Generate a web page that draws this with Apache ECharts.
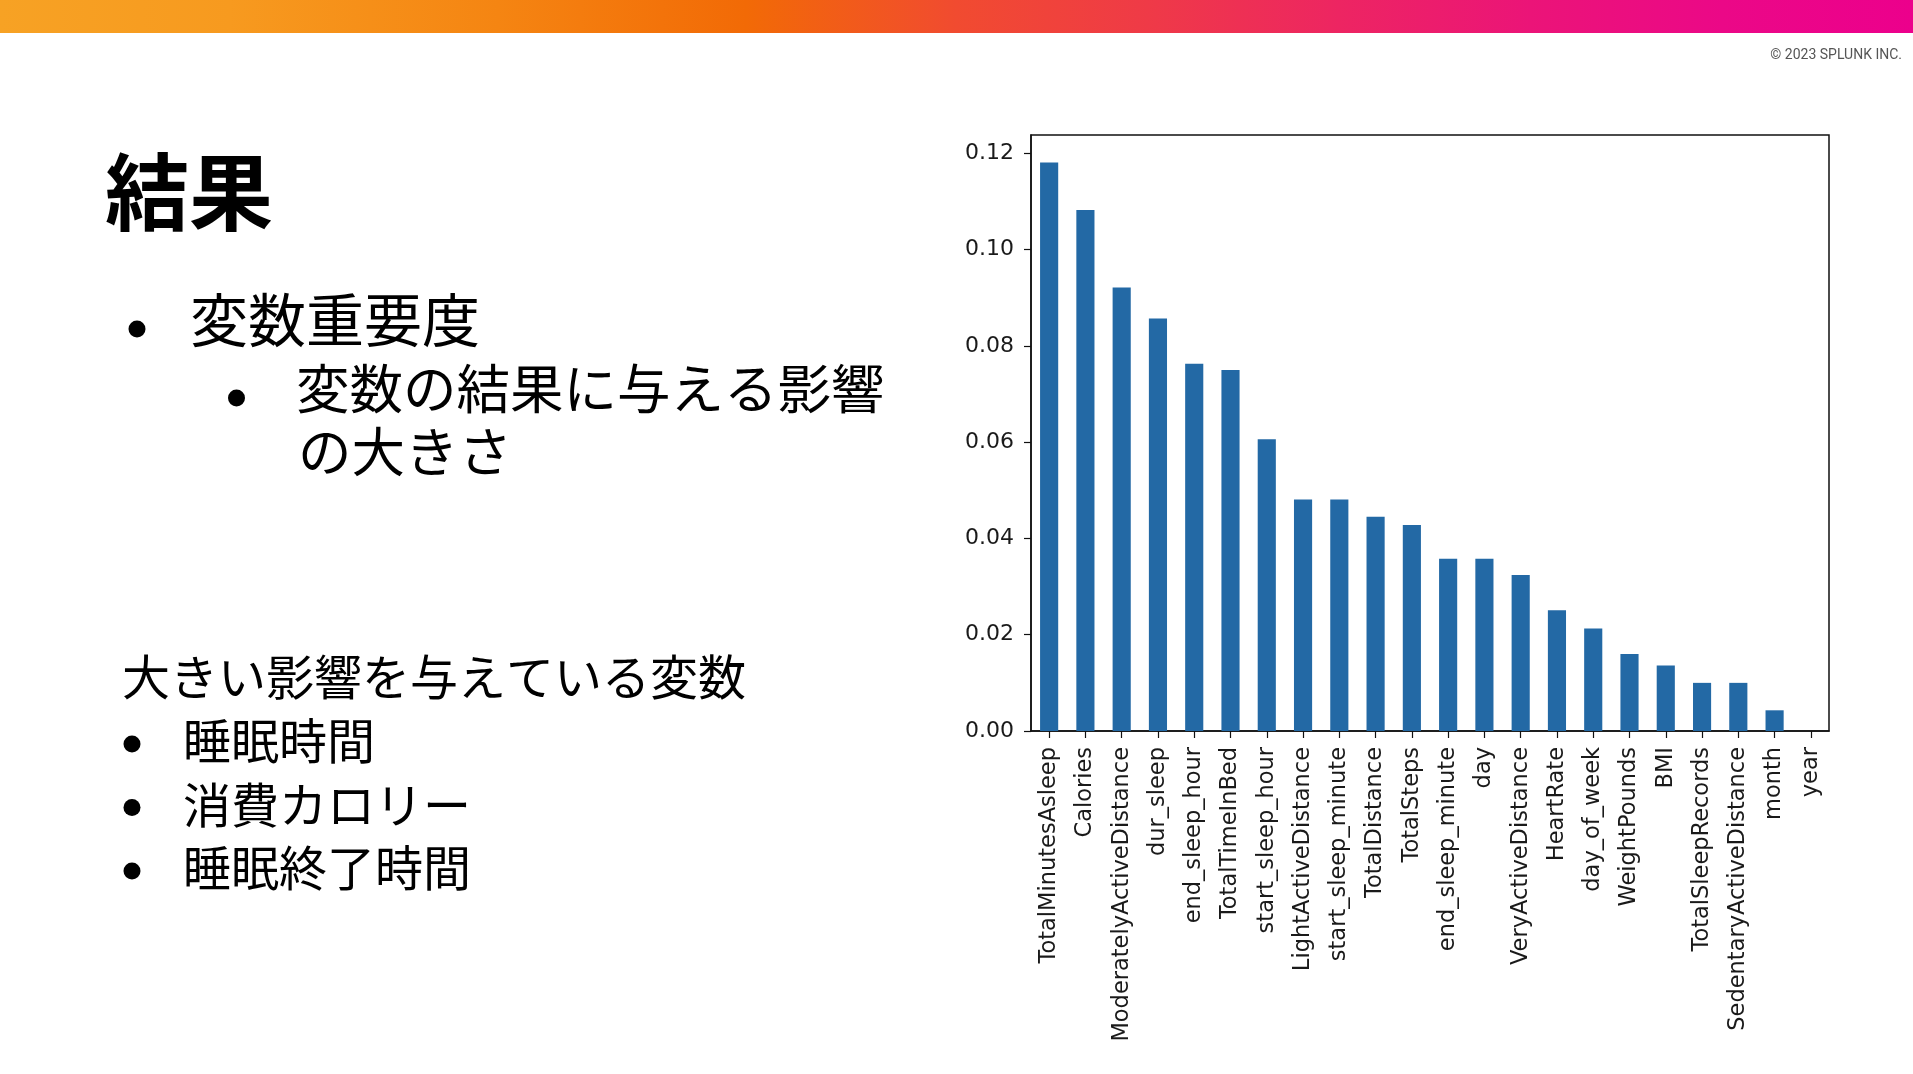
<!DOCTYPE html>
<html>
<head>
<meta charset="utf-8">
<script src="https://cdn.jsdelivr.net/npm/echarts@6/dist/echarts.min.js"></script>
<style>
html,body{margin:0;padding:0;background:#fff;}
#main{width:1913px;height:1074px;}
</style>
</head>
<body>
<div id="main"></div>
<script>
const categories = ["TotalMinutesAsleep","Calories","ModeratelyActiveDistance","dur_sleep","end_sleep_hour","TotalTimeInBed","start_sleep_hour","LightActiveDistance","start_sleep_minute","TotalDistance","TotalSteps","end_sleep_minute","day","VeryActiveDistance","HeartRate","day_of_week","WeightPounds","BMI","TotalSleepRecords","SedentaryActiveDistance","month","year"];
const importance = [0.1181,0.1082,0.0921,0.0857,0.0763,0.0750,0.0606,0.0481,0.0481,0.0445,0.0428,0.0358,0.0358,0.0324,0.0251,0.0213,0.0160,0.0136,0.0100,0.0100,0.0043,0.0];
const yTicks = [0, 0.02, 0.04, 0.06, 0.08, 0.10, 0.12];
const titleText = "結果";
const bullet1 = "変数重要度";
const sub1a = "変数の結果に与える影響";
const sub1b = "の大きさ";
const lowerHead = "大きい影響を与えている変数";
const lowerItems = ["睡眠時間", "消費カロリー", "睡眠終了時間"];
const copyright = "© 2023 SPLUNK INC.";

const chart = echarts.init(document.getElementById('main'), null, {renderer: 'canvas'});
const jp = '"Noto Sans CJK JP", "Noto Sans", sans-serif';

const graphics = [
  {type:'rect', shape:{x:0,y:0,width:1913,height:33}, style:{fill:new echarts.graphic.LinearGradient(0,0,1,0,[
    {offset:0,color:'#f7a224'},{offset:0.12,color:'#f79a1f'},{offset:0.26,color:'#f58512'},
    {offset:0.39,color:'#f26a06'},{offset:0.5,color:'#f14b30'},{offset:0.6,color:'#ef3a47'},
    {offset:0.7,color:'#ed2562'},{offset:0.8,color:'#eb1478'},{offset:0.9,color:'#eb0887'},{offset:1,color:'#ec008c'}])}},
  {type:'text', style:{text:copyright, x:1902, y:55, align:'right', verticalAlign:'middle', font:'14px "Liberation Sans Narrow", "Roboto", sans-serif', fill:'#555'}},
  {type:'text', style:{text:titleText, x:105, y:192, verticalAlign:'middle', font:'bold 84px ' + jp, fill:'#000'}},
  {type:'circle', shape:{cx:137, cy:329, r:8.5}, style:{fill:'#000'}},
  {type:'text', style:{text:bullet1, x:190, y:320, verticalAlign:'middle', font:'58px ' + jp, fill:'#000'}},
  {type:'circle', shape:{cx:236.5, cy:398, r:8.5}, style:{fill:'#000'}},
  {type:'text', style:{text:sub1a, x:296, y:389, verticalAlign:'middle', font:'53.5px ' + jp, fill:'#000'}},
  {type:'text', style:{text:sub1b, x:298, y:452, verticalAlign:'middle', font:'53.5px ' + jp, fill:'#000'}},
  {type:'text', style:{text:lowerHead, x:122, y:677, verticalAlign:'middle', font:'48px ' + jp, fill:'#000'}}
];
lowerItems.forEach((t, i) => {
  const cy = 741 + i * 63.5;
  graphics.push({type:'circle', shape:{cx:132, cy:cy + 3, r:8.5}, style:{fill:'#000'}});
  graphics.push({type:'text', style:{text:t, x:183, y:cy, verticalAlign:'middle', font:'48px ' + jp, fill:'#000'}});
});

chart.setOption({
  animation: false,
  backgroundColor: '#fff',
  graphic: graphics,
  grid: {left:1031, right:84, top:135, bottom:343, show:true, borderColor:'#111', borderWidth:1.5, containLabel:false},
  xAxis: {
    type:'category', data:categories,
    axisLine:{show:true, lineStyle:{color:'#111', width:1.5}},
    axisTick:{show:true, alignWithLabel:true, length:7, lineStyle:{color:'#111', width:1.2}},
    axisLabel:{interval:0, rotate:90, margin:16, fontFamily:'DejaVu Sans', fontSize:22.5, color:'#1a1a1a'},
    splitLine:{show:false}
  },
  yAxis: {
    type:'value', min:0, max:0.1238,
    axisLine:{show:true, lineStyle:{color:'#111', width:1.5}},
    axisTick:{show:true, length:7, customValues:yTicks, lineStyle:{color:'#111', width:1.2}},
    axisLabel:{customValues:yTicks, margin:17, padding:[5,0,0,0], fontFamily:'DejaVu Sans', fontSize:22, color:'#1a1a1a', formatter:v => v.toFixed(2)},
    splitLine:{show:false}
  },
  series: [{
    type:'bar', data:importance, barWidth:'50%',
    itemStyle:{color:'#2369a5'}
  }]
});
</script>
</body>
</html>
